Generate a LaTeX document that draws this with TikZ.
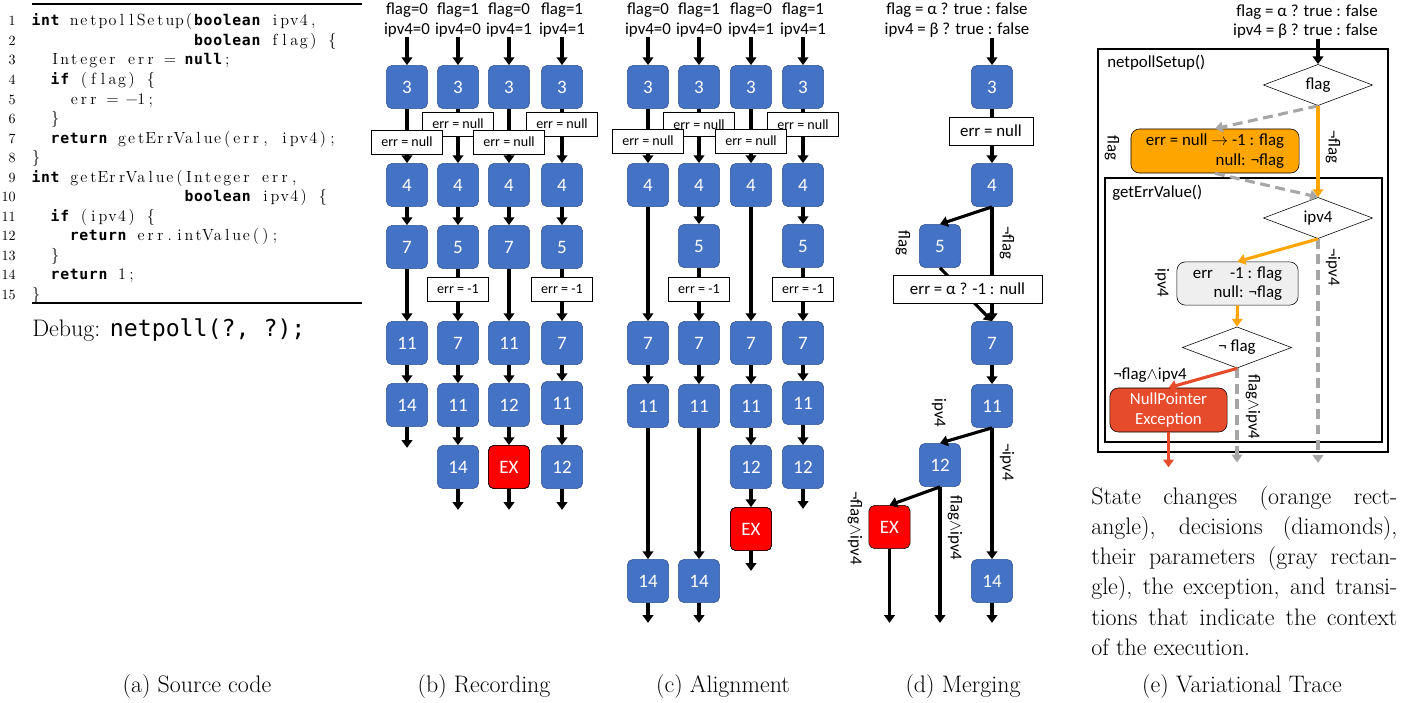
\documentclass[tikz,border=0pt]{standalone}
\usepackage{fontspec}
\setmonofont{DejaVu Sans Mono}
\newfontfamily\dia{Carlito}
\usetikzlibrary{arrows.meta,shapes.geometric}

\definecolor{boxblue}{HTML}{4472C4}
\definecolor{boxedge}{HTML}{2F528F}
\definecolor{exred}{HTML}{FF0000}
\definecolor{stateor}{HTML}{FFA500}
\definecolor{npered}{HTML}{E64B2B}
\definecolor{trgray}{HTML}{A6A6A6}
\definecolor{parbg}{HTML}{EFEFEF}

% fixed columns for the listing, \kwsw switches the keyword font
\newlength\colw \setlength\colw{0.239cm}
\newif\ifkw
\chardef\kwsw=1
\chardef\fixend=2
\def\kwfont{\ttfamily\bfseries\fontsize{10.5}{12}\selectfont}
\def\fixcols#1{\kwfalse\fixloop#1\fixend}
\def\fixloop#1{%
  \ifx#1\fixend\else
    \ifx#1\kwsw\ifkw\kwfalse\else\kwtrue\fi
    \else\makebox[\colw]{\ifkw\kwfont\fi#1}\fi
    \expandafter\fixloop
  \fi}

\begin{document}
\begin{tikzpicture}[x=0.025cm, y=-0.025cm,
  stmt/.style={draw=boxedge, fill=boxblue, rounded corners=4pt, minimum width=1.03cm,
    minimum height=1.08cm, inner sep=0pt, text=white, font=\dia\fontsize{13.5}{16}\selectfont},
  exc/.style={stmt, draw=black, fill=exred},
  asg/.style={draw, fill=white, minimum height=0.6cm, inner xsep=0.24cm, inner ysep=0pt,
    font=\dia\fontsize{10}{12}\selectfont},
  asgm/.style={asg, minimum height=0.7cm, font=\dia\fontsize{12}{14}\selectfont},
  inp/.style={align=center, inner sep=0pt, font=\dia\fontsize{12}{14.2}\selectfont},
  lbl/.style={inner sep=0pt, font=\dia\fontsize{12}{14}\selectfont},
  cond/.style={lbl, rotate=-90},
  dec/.style={diamond, draw, fill=white, aspect=2.6, minimum width=2.73cm,
    minimum height=1.03cm, inner sep=0pt, font=\dia\fontsize{12}{14}\selectfont},
  tbox/.style={draw, rounded corners=6pt, align=right, inner sep=0pt,
    font=\dia\fontsize{12}{14}\selectfont},
  flow/.style={line width=2.2pt, -{Triangle[width=7.5pt,length=5.5pt]}},
  oflow/.style={flow, draw=stateor},
  rflow/.style={flow, draw=npered},
  gflow/.style={flow, draw=trgray, dash pattern=on 7pt off 4pt},
  captext/.style={inner sep=0pt, anchor=base, font=\fontsize{17}{20}\selectfont}]
\useasboundingbox (0,0) rectangle (1408,703);

% (a) source code
\draw[line width=0.9pt] (32,4) -- (362,4);
\draw[line width=0.9pt] (32,303) -- (362,303);
\foreach \t [count=\n] in {%
    {\kwsw int\kwsw~netpollSetup(\kwsw boolean\kwsw~ipv4,},
    {~~~~~~~~~~~~~~~~~\kwsw boolean\kwsw~flag)~\{},
    {~~Integer~err~=~\kwsw null\kwsw;},
    {~~\kwsw if\kwsw~(flag)~\{},
    {~~~~err~=~−1;},
    {~~\}},
    {~~\kwsw return\kwsw~getErrValue(err,~ipv4);},
    {\}},
    {\kwsw int\kwsw~getErrValue(Integer~err,},
    {~~~~~~~~~~~~~~~~\kwsw boolean\kwsw~ipv4)~\{},
    {~~\kwsw if\kwsw~(ipv4)~\{},
    {~~~~\kwsw return\kwsw~err.intValue();},
    {~~\}},
    {~~\kwsw return\kwsw~1;},
    {\}}} {
  \node[anchor=base west, inner sep=0pt, font=\fontsize{11.5}{13}\selectfont] (code\n)
    at (31,{26+(\n-1)*19.5}) {\expandafter\fixcols\expandafter{\t}};
  \node[anchor=base east, inner sep=0pt, font=\fontsize{10}{11}\selectfont] (num\n)
    at (16,{26+(\n-1)*19.5}) {\n};
}
\node[anchor=base west, inner sep=0pt, font=\fontsize{17}{20}\selectfont] (debug) at (32,336)
  {Debug: {\ttfamily\fontsize{16.5}{20}\selectfont netpoll(?, ?);}};

% (b) recording
\foreach \x/\f/\i [count=\c] in {407/0/0,458/1/0,509/0/1,562/1/1}
  \node[inp] (rin\c) at (\x,20) {flag=\f\\ipv4=\i};
\foreach \c/\x/\seq in {1/407/{3/87,4/185,7/247,11/343,14/405},
    2/458/{3/87,4/185,5/247,7/343,11/405,14/467},
    3/509/{3/87,4/185,7/247,11/343,12/405},
    4/562/{3/87,4/185,5/247,7/343,11/403,12/467}}
  \foreach \s/\y [count=\k, remember=\k as \p (initially 0)] in \seq {
    \node[stmt] (rec\c-\k) at (\x,\y) {\s};
    \ifnum\k=1 \draw[flow] (rin\c) -- (rec\c-1);
    \else \draw[flow] (rec\c-\p) -- (rec\c-\k); \fi
  }
\node[exc] (recEX) at (509,467) {EX};
\draw[flow] (rec3-5) -- (recEX);
\foreach \e in {rec1-5,rec2-6,recEX,rec4-6}
  \draw[flow] (\e.south) -- ++(0,21);
\foreach \x/\y [count=\c] in {458/124,562/124,407/142,509/142}
  \node[asg] (rnull\c) at (\x,\y) {err = null};
\foreach \x [count=\c] in {458,562}
  \node[asg] (rneg\c) at (\x,289.5) {err = -1};

% (c) alignment
\foreach \x/\f/\i [count=\c] in {648/0/0,699/1/0,751/0/1,803/1/1}
  \node[inp] (ain\c) at (\x,20) {flag=\f\\ipv4=\i};
\foreach \c/\x/\seq in {1/648/{3/87,4/185,7/343,11/406,14/581},
    2/699/{3/87,4/185,5/246,7/343,11/406,14/581},
    3/751/{3/87,4/185,7/343,11/406,12/467},
    4/803/{3/87,4/185,5/246,7/343,11/403,12/467}}
  \foreach \s/\y [count=\k, remember=\k as \p (initially 0)] in \seq {
    \node[stmt] (aln\c-\k) at (\x,\y) {\s};
    \ifnum\k=1 \draw[flow] (ain\c) -- (aln\c-1);
    \else \draw[flow] (aln\c-\p) -- (aln\c-\k); \fi
  }
\node[exc] (alnEX) at (751,529) {EX};
\draw[flow] (aln3-5) -- (alnEX);
\foreach \e in {aln1-5,aln2-6,alnEX,aln4-6}
  \draw[flow] (\e.south) -- ++(0,20);
\foreach \x/\y [count=\c] in {699/124.5,803/124.5,648/141,751/141}
  \node[asg] (anull\c) at (\x,\y) {err = null};
\foreach \x [count=\c] in {699,803}
  \node[asg] (aneg\c) at (\x,289.5) {err = -1};

% (d) merging
\node[inp] (min) at (957,20) {flag = α ? true : false\\ipv4 = β ? true : false};
\node[stmt] (m3) at (992,87) {3};
\node[stmt] (m4) at (992,185) {4};
\node[stmt] (m5) at (940,246) {5};
\node[stmt] (m7) at (992,343) {7};
\node[stmt] (m11) at (992,406) {11};
\node[stmt] (m12) at (940,465) {12};
\node[exc] (mEX) at (889.5,527) {EX};
\node[stmt] (m14) at (992,581) {14};
\draw[flow] (m3 |- min.south) -- (m3);
\draw[flow] (m3) -- (m4);
\draw[flow] (m4.south) -- (m5.north);
\draw[flow] (m4) -- (m7);
\draw[flow] (m5.south) -- (m7.north);
\draw[flow] (m7) -- (m11);
\draw[flow] (m11.south) -- (m12.north);
\draw[flow] (m11) -- (m14);
\draw[flow] (m12.south) -- (mEX.north);
\draw[flow] (m12.south) -- ++(0,136);
\draw[flow] (mEX.south) -- ++(0,74);
\draw[flow] (m14.south) -- ++(0,20);
\node[asgm, minimum width=2.1cm] (mnull) at (991,131) {err = null};
\node[asgm, minimum width=3.73cm] (malpha) at (967.5,289) {err = α ? -1 : null};
\node[cond] (mc1) at (903,243) {flag};
\node[cond] (mc2) at (1007,243) {¬flag};
\node[cond] (mc3) at (939,413) {ipv4};
\node[cond] (mc4) at (1007,462) {¬ipv4};
\node[cond] (mc5) at (955,528) {flag$\wedge$ipv4};
\node[cond] (mc6) at (855,528) {¬flag$\wedge$ipv4};

% (e) variational trace
\node[lbl, align=right, anchor=east, font=\dia\fontsize{12}{13.5}\selectfont] (vin) at (1378,21.5)
  {flag = α ? true : false\\ipv4 = β ? true : false};
\draw[line width=0.8pt] (1098,49) rectangle (1388,452);
\draw[line width=0.8pt] (1105,178) rectangle (1382,442);
\node[lbl, anchor=west] (vfun1) at (1107,63) {netpollSetup()};
\node[lbl, anchor=west] (vfun2) at (1112,193) {getErrValue()};
\node[dec] (vflag) at (1318,85) {flag};
\node[dec] (vipv4) at (1318,218) {ipv4};
\node[dec] (vnflag) at (1237,347.5) {¬ flag};
\node[tbox, fill=stateor, minimum width=4.2cm, minimum height=1.1cm] (vstate) at (1215,151)
  {err = null $\rightarrow$ -1 : flag\\null: ¬flag};
\node[tbox, fill=parbg, minimum width=3.03cm, minimum height=1.08cm] (vparam) at (1237.5,283.5)
  {err\hspace{12pt}-1 : flag\\null: ¬flag};
\node[tbox, fill=npered, text=white, align=center, minimum width=2.93cm, minimum height=1.1cm]
  (vnpe) at (1168.5,410) {NullPointer\\Exception};
\draw[flow] (vflag |- vin.south) -- (vflag);
\draw[gflow] (vflag.south) -- (vstate.north);
\draw[gflow] (vstate.south) -- (vipv4.north);
\draw[oflow] (vflag.south) -- (vipv4.north);
\draw[gflow] (vipv4.south) -- ++(0,224);
\draw[oflow] (vipv4.south) -- (vparam.north);
\draw[oflow] (vparam.south) -- (vnflag.north);
\draw[gflow] (vnflag.south) -- ++(0,94);
\draw[rflow] (vnflag.south) -- (vnpe.north);
\draw[rflow] (vnpe.south) -- ++(0,35);
\node[cond] (vc1) at (1333,147) {¬flag};
\node[cond] (vc2) at (1112,148) {flag};
\node[cond] (vc3) at (1333,267) {¬ipv4};
\node[cond] (vc4) at (1162,283) {ipv4};
\node[lbl] (vc5) at (1150,375) {¬flag$\wedge$ipv4};
\node[cond] (vc6) at (1253,407) {flag$\wedge$ipv4};
\node[anchor=north west, inner sep=0pt, text width=7.65cm, align=justify,
  font=\fontsize{17}{21.5}\selectfont] (vtext) at (1091,486)
  {State changes (orange rect-\linebreak angle), decisions (diamonds),\linebreak
   their parameters (gray rectan-\linebreak gle), the exception, and transi-\linebreak
   tions that indicate the context\linebreak of the execution.};

% captions
\foreach \x/\t [count=\c] in {197/{(a) Source code},484/{(b) Recording},723/{(c) Alignment},
    963/{(d) Merging},1242/{(e) Variational Trace}}
  \node[captext] (cap\c) at (\x,692) {\t};
\end{tikzpicture}
\end{document}
